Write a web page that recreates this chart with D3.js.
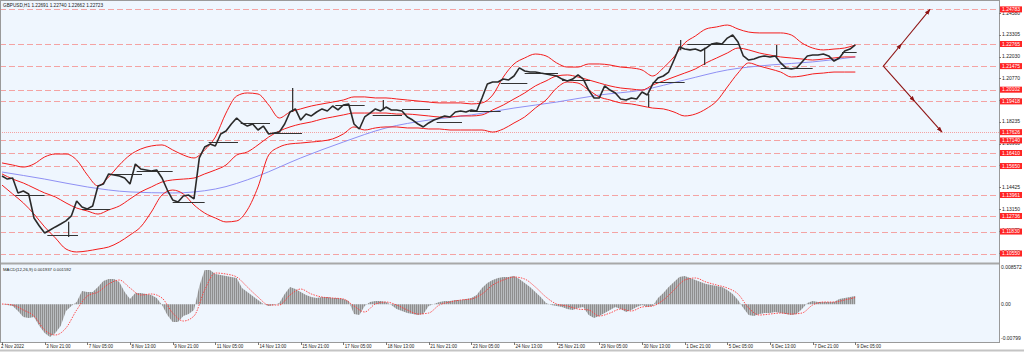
<!DOCTYPE html>
<html lang="en">
<head>
<meta charset="utf-8">
<title>GBPUSD,H1</title>
<script src="https://cdn.jsdelivr.net/npm/d3@7"></script>
<style>
  body { margin: 0; background: #fff; }
  svg text { font-family: "Liberation Sans", Arial, sans-serif; fill: #222; }
</style>
</head>
<body>
<script>
var w = 1024, h = 352;

// H1 closes sampled every 4 bars (bar 0 = 2 Nov 13:00)
var closes = [
  1.1507,1.1489,1.1495,1.1408,1.1419,1.1402,1.1262,1.1215,1.1175,1.1192,
  1.1210,1.1227,1.1245,1.1274,1.1361,1.1326,1.1315,1.1332,1.1449,1.1460,
  1.1519,1.1513,1.1507,1.1495,1.1460,1.1577,1.1548,1.1542,1.1536,1.1542,
  1.1495,1.1425,1.1367,1.1355,1.1390,1.1396,1.1373,1.1612,1.1676,1.1693,
  1.1682,1.1752,1.1769,1.1810,1.1845,1.1816,1.1798,1.1810,1.1775,1.1798,
  1.1752,1.1758,1.1763,1.1810,1.1880,1.1898,1.1833,1.1868,1.1857,1.1880,
  1.1898,1.1886,1.1915,1.1892,1.1921,1.1927,1.1810,1.1781,1.1851,1.1874,
  1.1898,1.1886,1.1909,1.1892,1.1892,1.1886,1.1851,1.1833,1.1810,1.1793,
  1.1816,1.1833,1.1845,1.1857,1.1851,1.1880,1.1886,1.1880,1.1892,1.1886,
  1.1962,1.2043,1.2055,1.2055,1.2072,1.2067,1.2090,1.2137,1.2119,1.2113,
  1.2113,1.2107,1.2102,1.2096,1.2090,1.2072,1.2061,1.2072,1.2096,1.2072,
  1.2008,1.1962,1.1962,1.2032,1.2008,1.1991,1.1956,1.1950,1.1962,1.1956,
  1.1997,1.1979,1.2043,1.2078,1.2090,1.2113,1.2183,1.2259,1.2247,1.2242,
  1.2247,1.2236,1.2253,1.2276,1.2282,1.2276,1.2311,1.2329,1.2288,1.2207,
  1.2183,1.2189,1.2201,1.2207,1.2201,1.2207,1.2166,1.2137,1.2131,1.2137,
  1.2172,1.2207,1.2212,1.2212,1.2218,1.2207,1.2177,1.2195,1.2236,1.2247,
  1.2272
];

// single spikes: bar, high, low
var wickBar  = [50, 218, 286, 485, 509, 527, 581];
var wickHigh = [1.1240, 1.2020, 1.1950, 1.1985, 1.2300, 1.2255, 1.2271];
var wickLow  = [1.1151, 1.1880, 1.1890, 1.1909, 1.2240, 1.2154, 1.2200];

// bollinger bands, every 8 bars
var bbUpper = [
  1.1583,1.1571,1.1559,1.1577,1.1618,1.1635,1.1635,1.1600,1.1513,1.1449,
  1.1501,1.1571,1.1629,1.1664,1.1682,1.1688,1.1659,1.1629,1.1612,1.1659,
  1.1734,1.1874,1.1973,1.1991,1.1985,1.1921,1.1845,1.1880,1.1898,1.1915,
  1.1927,1.1938,1.1950,1.1968,1.1968,1.1962,1.1962,1.1956,1.1950,1.1944,
  1.1938,1.1933,1.1933,1.1933,1.1927,1.1933,1.1979,1.2084,1.2160,1.2195,
  1.2218,1.2207,1.2166,1.2142,1.2142,1.2160,1.2160,1.2154,1.2142,1.2137,
  1.2125,1.2090,1.2137,1.2201,1.2282,1.2323,1.2364,1.2376,1.2387,1.2364,
  1.2346,1.2341,1.2341,1.2341,1.2329,1.2282,1.2253,1.2242,1.2247,1.2253,
  1.2271
];
var bbMiddle = [
  1.1519,1.1489,1.1466,1.1437,1.1408,1.1385,1.1350,1.1320,1.1303,1.1285,
  1.1309,1.1332,1.1373,1.1414,1.1443,1.1472,1.1484,1.1489,1.1495,1.1519,
  1.1542,1.1571,1.1629,1.1647,1.1688,1.1734,1.1769,1.1793,1.1810,1.1822,
  1.1839,1.1851,1.1863,1.1874,1.1874,1.1874,1.1874,1.1868,1.1868,1.1863,
  1.1857,1.1851,1.1851,1.1857,1.1857,1.1863,1.1892,1.1921,1.1956,1.1991,
  1.2032,1.2061,1.2090,1.2096,1.2084,1.2067,1.2049,1.2032,1.2020,1.2014,
  1.2008,1.2037,1.2061,1.2084,1.2107,1.2131,1.2166,1.2195,1.2224,1.2253,
  1.2242,1.2224,1.2212,1.2201,1.2195,1.2189,1.2183,1.2189,1.2195,1.2201,
  1.2201
];
var bbLower = [
  1.1454,1.1402,1.1350,1.1285,1.1210,1.1146,1.1081,1.1064,1.1070,1.1081,
  1.1093,1.1122,1.1163,1.1210,1.1297,1.1396,1.1425,1.1402,1.1338,1.1291,
  1.1262,1.1239,1.1245,1.1309,1.1443,1.1629,1.1676,1.1694,1.1699,1.1705,
  1.1711,1.1723,1.1752,1.1793,1.1775,1.1787,1.1793,1.1793,1.1787,1.1787,
  1.1781,1.1781,1.1775,1.1775,1.1775,1.1775,1.1763,1.1781,1.1816,1.1851,
  1.1903,1.1950,1.2020,1.2055,1.2049,1.2008,1.1968,1.1950,1.1933,1.1927,
  1.1915,1.1903,1.1898,1.1880,1.1857,1.1868,1.1898,1.1944,1.2026,1.2107,
  1.2166,1.2148,1.2131,1.2113,1.2084,1.2090,1.2102,1.2107,1.2113,1.2113,
  1.2113
];

// slow moving average, every 32 bars
var maLine = [1.1530,1.1489,1.1443,1.1414,1.1408,1.1431,1.1507,1.1612,1.1705,1.1787,
  1.1833,1.1863,1.1903,1.1938,1.1979,1.2008,1.2067,1.2125,1.2154,1.2172,1.2201];

// MACD(12,26,9) histogram every 4 bars, signal every 8 bars
var macdHist = [
  0.00007,-0.00016,-0.00039,-0.00155,-0.00294,-0.00317,-0.00294,-0.00503,-0.00665,-0.00757,
  -0.00665,-0.00503,-0.00155,-0.00039,0.00053,0.00308,0.00285,0.00285,0.00401,0.00540,
  0.00586,0.00586,0.00517,0.00285,0.00123,0.00262,0.00262,0.00239,0.00216,0.00146,
  -0.00016,-0.00248,-0.00410,-0.00410,-0.00271,-0.00225,-0.00132,0.00424,0.00795,0.00795,
  0.00702,0.00679,0.00656,0.00633,0.00610,0.00378,0.00285,0.00190,0.00100,0.00007,
  -0.00039,-0.00016,0.00030,0.00239,0.00401,0.00354,0.00285,0.00216,0.00169,0.00146,
  0.00169,0.00169,0.00146,0.00146,0.00123,0.00076,-0.00225,-0.00248,-0.00039,0.00053,
  0.00076,0.00076,0.00053,-0.00016,-0.00109,-0.00155,-0.00202,-0.00225,-0.00248,-0.00225,
  -0.00039,0.00007,0.00053,0.00076,0.00076,0.00100,0.00100,0.00123,0.00146,0.00216,
  0.00378,0.00494,0.00563,0.00610,0.00633,0.00633,0.00656,0.00586,0.00494,0.00401,
  0.00285,0.00169,0.00030,-0.00016,-0.00039,-0.00063,-0.00109,-0.00132,-0.00086,-0.00063,
  -0.00248,-0.00317,-0.00271,-0.00202,-0.00132,-0.00063,-0.00109,-0.00178,-0.00132,-0.00063,
  -0.00016,-0.00063,-0.00039,0.00146,0.00262,0.00401,0.00517,0.00633,0.00656,0.00610,
  0.00563,0.00517,0.00470,0.00447,0.00424,0.00401,0.00331,0.00239,0.00100,-0.00086,
  -0.00248,-0.00271,-0.00225,-0.00202,-0.00202,-0.00178,-0.00202,-0.00225,-0.00248,-0.00225,
  -0.00109,0.00030,0.00076,0.00053,0.00053,0.00053,0.00053,0.00123,0.00146,0.00169,
  0.00194
];
var macdSignal = [
  0.00007,-0.00016,-0.00132,-0.00271,-0.00595,-0.00711,-0.00549,-0.00132,0.00192,0.00285,
  0.00470,0.00563,0.00378,0.00216,0.00239,0.00146,-0.00202,-0.00387,-0.00271,0.00331,
  0.00725,0.00702,0.00633,0.00401,0.00169,-0.00016,-0.00016,0.00216,0.00354,0.00239,
  0.00169,0.00146,0.00123,-0.00039,-0.00178,0.00007,0.00053,-0.00016,-0.00132,-0.00225,
  -0.00202,-0.00016,0.00053,0.00100,0.00123,0.00239,0.00447,0.00563,0.00633,0.00586,
  0.00401,0.00169,0.00007,-0.00039,-0.00109,-0.00132,-0.00271,-0.00202,-0.00109,-0.00155,
  -0.00063,-0.00039,0.00100,0.00331,0.00563,0.00610,0.00517,0.00447,0.00378,0.00239,
  -0.00086,-0.00248,-0.00225,-0.00202,-0.00225,-0.00202,-0.00016,0.00053,0.00053,0.00100,
  0.00159
];

// daily horizontal segments (bar from, bar to, price)
var segFrom  = [10,34,60,80,101,128,155,179,201,250,278,300,326,351,374,392,420,488,514,584,630];
var segTo    = [32,57,81,105,128,152,177,201,225,272,300,321,345,374,394,417,441,512,553,608,641];
var segPrice = [1.1396,1.1163,1.1315,1.1519,1.1536,1.1355,1.1705,1.1816,1.1758,1.1921,1.1863,
  1.1898,1.1822,1.1886,1.2049,1.2107,1.2067,1.2055,1.2276,1.2137,1.2230];

// horizontal levels with price labels
var levels = ["1.24783","1.22765","1.21475","1.20102","1.19418","1.17626","1.17140",
  "1.16410","1.15650","1.13961","1.12736","1.11830","1.10550"];
var dottedLevel = "1.17626";

var priceTicks = ["1.24580","1.23305","1.22030","1.20770","1.19500","1.18235","1.16960",
  "1.15690","1.14425","1.13150","1.11875","1.10600"];

var timeLabels = ["2 Nov 2022","3 Nov 21:00","7 Nov 05:00","8 Nov 13:00","9 Nov 21:00",
  "11 Nov 05:00","14 Nov 13:00","15 Nov 21:00","17 Nov 05:00","18 Nov 13:00","21 Nov 21:00",
  "23 Nov 05:00","24 Nov 13:00","25 Nov 21:00","29 Nov 05:00","30 Nov 13:00","1 Dec 21:00",
  "5 Dec 05:00","6 Dec 13:00","7 Dec 21:00","9 Dec 05:00"];

// projection arrows: [bar, price] start, then two legs with a middle level
var arrowStart = [661, 1.21475];
var arrowUp    = [696, 1.24783, 1.22765];
var arrowDown  = [705, 1.17626, 1.19418];

var macdTicks = ["0.008572", "0.00", "-0.00799"];

// ---------- scales ----------
var right = 999;
var x = d3.scaleLinear().domain([0, 747.75]).range([2, right]);
var y = d3.scaleLinear().domain([1.10055, 1.25155]).range([262, 3]);
var ym = d3.scaleLinear().domain([-0.0085, 0.00934]).range([341, 264]);

var svg = d3.select("body").append("svg")
  .attr("width", w).attr("height", h);

svg.append("rect").attr("width", w).attr("height", h).attr("fill", "#ffffff");
svg.append("rect").attr("x", 0).attr("y", 0).attr("width", right).attr("height", 342)
  .attr("fill", "#eff6fe");

var defs = svg.append("defs");
defs.append("clipPath").attr("id", "mainClip").append("rect")
  .attr("x", 0).attr("y", 1).attr("width", right).attr("height", 261);
defs.append("clipPath").attr("id", "macdClip").append("rect")
  .attr("x", 0).attr("y", 265).attr("width", right).attr("height", 77);
defs.append("marker").attr("id", "ahead")
  .attr("viewBox", "0 0 10 10").attr("refX", 9).attr("refY", 5)
  .attr("markerUnits", "userSpaceOnUse")
  .attr("markerWidth", 6).attr("markerHeight", 6).attr("orient", "auto")
  .append("path").attr("d", "M0,1.5L10,5L0,8.5z").attr("fill", "#8e1414");
// thin vertical hatch like MT4 histogram bars
var pat = defs.append("pattern").attr("id", "hatch")
  .attr("patternUnits", "userSpaceOnUse").attr("width", 2).attr("height", 4);
pat.append("rect").attr("width", 2).attr("height", 4).attr("fill", "#c4c8cc");
pat.append("rect").attr("width", 1.2).attr("height", 4).attr("fill", "#8e8e8e");

var main = svg.append("g").attr("clip-path", "url(#mainClip)");

// level lines
main.selectAll("line.level").data(levels).enter().append("line")
  .attr("x1", 0).attr("x2", right)
  .attr("y1", function(d) { return Math.round(y(+d)) + 0.5; })
  .attr("y2", function(d) { return Math.round(y(+d)) + 0.5; })
  .attr("stroke", "#f4a3a3")
  .attr("stroke-width", 1)
  .attr("stroke-dasharray", function(d) { return d === dottedLevel ? "1,1" : "6,3"; });

// moving average
var ma = d3.line()
  .x(function(d, i) { return x(i * 32); })
  .y(function(d) { return y(d); })
  .curve(d3.curveMonotoneX);
main.append("path").attr("d", ma(maLine))
  .attr("fill", "none").attr("stroke", "#8f90f4").attr("stroke-width", 1);

// bollinger bands
var band = d3.line()
  .x(function(d, i) { return x(i * 8); })
  .y(function(d) { return y(d); })
  .curve(d3.curveMonotoneX);
[bbUpper, bbMiddle, bbLower].forEach(function(s) {
  main.append("path").attr("d", band(s))
    .attr("fill", "none").attr("stroke", "#f41c1c").attr("stroke-width", 1);
});

// daily segments
main.selectAll("line.seg").data(segPrice).enter().append("line")
  .attr("x1", function(d, i) { return x(segFrom[i]); })
  .attr("x2", function(d, i) { return x(segTo[i]); })
  .attr("y1", function(d) { return Math.round(y(d)) + 0.5; })
  .attr("y2", function(d) { return Math.round(y(d)) + 0.5; })
  .attr("stroke", "#333").attr("stroke-width", 1);

// price
var priceLine = d3.line()
  .x(function(d, i) { return x(i * 4); })
  .y(function(d) { return y(d); });
main.append("path").attr("d", priceLine(closes))
  .attr("fill", "none").attr("stroke", "#2a2a2a").attr("stroke-width", 1.6)
  .attr("stroke-linejoin", "bevel");
main.selectAll("line.wick").data(wickBar).enter().append("line")
  .attr("x1", function(d) { return x(d); }).attr("x2", function(d) { return x(d); })
  .attr("y1", function(d, i) { return y(wickHigh[i]); })
  .attr("y2", function(d, i) { return y(wickLow[i]); })
  .attr("stroke", "#2a2a2a").attr("stroke-width", 1.2);

// projection arrows, split at the middle level so each half gets a head
function leg(to) {
  var t = (to[2] - arrowStart[1]) / (to[1] - arrowStart[1]);
  var midBar = arrowStart[0] + (to[0] - arrowStart[0]) * t;
  var pts = [[arrowStart[0], arrowStart[1]], [midBar, to[2]], [to[0], to[1]]];
  for (var k = 0; k < 2; k++) {
    svg.append("line")
      .attr("x1", x(pts[k][0])).attr("y1", y(pts[k][1]))
      .attr("x2", x(pts[k + 1][0])).attr("y2", y(pts[k + 1][1]))
      .attr("stroke", "#8e1414").attr("stroke-width", 1.1)
      .attr("marker-end", "url(#ahead)");
  }
}
leg(arrowUp);
leg(arrowDown);

// ---------- MACD panel ----------
var macd = svg.append("g").attr("clip-path", "url(#macdClip)");
var histArea = d3.area()
  .x(function(d, i) { return x(i * 4); })
  .y0(ym(0))
  .y1(function(d) { return ym(d); });
macd.append("path").attr("d", histArea(macdHist))
  .attr("fill", "url(#hatch)");
var sig = d3.line()
  .x(function(d, i) { return x(i * 8); })
  .y(function(d) { return ym(d); })
  .curve(d3.curveMonotoneX);
macd.append("path").attr("d", sig(macdSignal))
  .attr("fill", "none").attr("stroke", "#ff3b3b").attr("stroke-width", 0.9)
  .attr("stroke-dasharray", "1.5,1.2");

// ---------- frame ----------
svg.append("rect").attr("x", 0).attr("y", 262.5).attr("width", right).attr("height", 2)
  .attr("fill", "#a8a8a8");
svg.append("line").attr("x1", 0).attr("x2", right).attr("y1", 0.5).attr("y2", 0.5)
  .attr("stroke", "#9a9a9a");
svg.append("line").attr("x1", 0).attr("x2", right + 0.5).attr("y1", 342.5).attr("y2", 342.5)
  .attr("stroke", "#9a9a9a");
svg.append("line").attr("x1", 0.5).attr("x2", 0.5).attr("y1", 0).attr("y2", 343)
  .attr("stroke", "#9a9a9a");
svg.append("line").attr("x1", right + 0.5).attr("x2", right + 0.5).attr("y1", 0).attr("y2", 343)
  .attr("stroke", "#9a9a9a");
svg.append("line").attr("x1", 0).attr("x2", w).attr("y1", 350.5).attr("y2", 350.5)
  .attr("stroke", "#c4c4c4").attr("stroke-width", 2);

// ---------- right price axis ----------
var axisG = svg.append("g");
axisG.selectAll("text.tick").data(priceTicks).enter().append("text")
  .attr("x", right + 3).attr("y", function(d) { return y(+d) + 1.7; })
  .style("font-size", "5px").text(function(d) { return d; });
axisG.selectAll("line.tick").data(priceTicks).enter().append("line")
  .attr("x1", right).attr("x2", right + 2)
  .attr("y1", function(d) { return Math.round(y(+d)) + 0.5; })
  .attr("y2", function(d) { return Math.round(y(+d)) + 0.5; })
  .attr("stroke", "#777");

var tags = axisG.selectAll("g.tag").data(levels).enter().append("g")
  .attr("transform", function(d) { return "translate(" + (right + 1) + "," + y(+d) + ")"; });
tags.append("rect").attr("x", 0).attr("y", -3).attr("width", 22).attr("height", 6)
  .attr("fill", "#ff2424");
tags.append("text").attr("x", 2).attr("y", 1.8)
  .style("font-size", "5px").style("fill", "#ffffff")
  .text(function(d) { return d; });

// MACD axis
axisG.selectAll("text.mtick").data(macdTicks).enter().append("text")
  .attr("x", right + 2).attr("y", function(d) { return ym(+d) + 1.7; })
  .style("font-size", "5px").text(function(d) { return d; });

// ---------- time axis ----------
var tg = svg.append("g");
tg.selectAll("line").data(timeLabels).enter().append("line")
  .attr("x1", function(d, i) { return Math.round(x(i * 32)) + 0.5; })
  .attr("x2", function(d, i) { return Math.round(x(i * 32)) + 0.5; })
  .attr("y1", 342).attr("y2", 345)
  .attr("stroke", "#777");
tg.selectAll("text").data(timeLabels).enter().append("text")
  .attr("x", function(d, i) { return i === 0 ? 1 : x(i * 32) + 1.5; })
  .attr("y", 347.8)
  .style("font-size", "4.5px")
  .text(function(d) { return d; });

// ---------- captions ----------
svg.append("text").attr("x", 3).attr("y", 7.2).style("font-size", "4.7px")
  .text("GBPUSD,H1  1.22691 1.22740 1.22662 1.22723");
svg.append("text").attr("x", 3).attr("y", 271).style("font-size", "4.3px")
  .text("MACD(12,26,9) 0.001937 0.001592");
</script>
</body>
</html>
